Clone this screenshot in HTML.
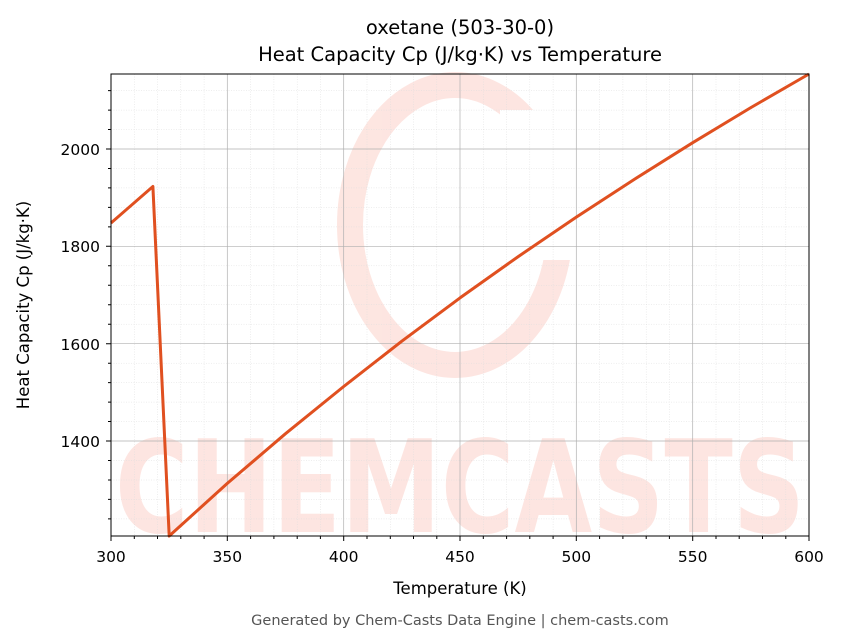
<!DOCTYPE html>
<html><head><meta charset="utf-8"><style>body{margin:0;background:#fff}svg{display:block;font-family:"DejaVu Sans","Liberation Sans",sans-serif}</style></head><body>
<svg width="843" height="644" viewBox="0 0 843 644" xmlns="http://www.w3.org/2000/svg">
<rect width="843" height="644" fill="#fff"/>
<g opacity="0.9">
<ellipse cx="455" cy="225" rx="105" ry="140" fill="none" stroke="#fde3de" stroke-width="26"/>
<rect x="500" y="110" width="90" height="150" fill="#fff"/>
<text x="460" y="532" text-anchor="middle" font-size="128" font-weight="bold" fill="#fde3de" textLength="690" lengthAdjust="spacingAndGlyphs">CHEMCASTS</text>
</g>
<g stroke="#ddd" stroke-width="0.5" stroke-dasharray="1,1.5">
<path d="M134.3 74V536M157.5 74V536M180.8 74V536M204.1 74V536M250.6 74V536M273.9 74V536M297.2 74V536M320.4 74V536M367 74V536M390.3 74V536M413.5 74V536M436.8 74V536M483.3 74V536M506.6 74V536M529.8 74V536M553.1 74V536M599.6 74V536M622.9 74V536M646.2 74V536M669.4 74V536M716 74V536M739.2 74V536M762.5 74V536M785.8 74V536"/>
<path d="M111 90.6H809M111 110.1H809M111 129.5H809M111 168.5H809M111 187.9H809M111 207.4H809M111 226.9H809M111 265.8H809M111 285.3H809M111 304.7H809M111 324.2H809M111 363.2H809M111 382.6H809M111 402.1H809M111 421.5H809M111 460.5H809M111 480H809M111 499.4H809M111 518.9H809"/>
</g>
<g stroke="#b0b0b0" stroke-width="0.7">
<path d="M227.3 74V536M343.7 74V536M460 74V536M576.3 74V536M692.7 74V536"/>
<path d="M111 149H809M111 246.3H809M111 343.7H809M111 441H809"/>
</g>
<path d="M111 223L152.9 186.5L169.2 536L227.3 483.4L285.5 433.7L343.7 386.5L401.8 341.2L460 297.9L518.2 256.6L576.3 217.1L634.5 179.2L692.7 142.7L750.8 107.6L809 74" fill="none" stroke="#e05020" stroke-width="3" stroke-linejoin="round"/>
<rect x="111" y="74" width="698" height="462" fill="none" stroke="#000" stroke-width="1"/>
<g stroke="#000" stroke-width="1">
<path d="M111 536v5M227.3 536v5M343.7 536v5M460 536v5M576.3 536v5M692.7 536v5M809 536v5"/>
<path d="M111 149h-5M111 246.3h-5M111 343.7h-5M111 441h-5"/>
<path d="M134.3 536v3M157.5 536v3M180.8 536v3M204.1 536v3M250.6 536v3M273.9 536v3M297.2 536v3M320.4 536v3M367 536v3M390.3 536v3M413.5 536v3M436.8 536v3M483.3 536v3M506.6 536v3M529.8 536v3M553.1 536v3M599.6 536v3M622.9 536v3M646.2 536v3M669.4 536v3M716 536v3M739.2 536v3M762.5 536v3M785.8 536v3"/>
<path d="M111 90.6h-3M111 110.1h-3M111 129.5h-3M111 168.5h-3M111 187.9h-3M111 207.4h-3M111 226.9h-3M111 265.8h-3M111 285.3h-3M111 304.7h-3M111 324.2h-3M111 363.2h-3M111 382.6h-3M111 402.1h-3M111 421.5h-3M111 460.5h-3M111 480h-3M111 499.4h-3M111 518.9h-3"/>
</g>
<g font-size="15.5" fill="#000" text-anchor="middle">
<text x="111" y="562">300</text><text x="227.3" y="562">350</text><text x="343.7" y="562">400</text><text x="460" y="562">450</text><text x="576.3" y="562">500</text><text x="692.7" y="562">550</text><text x="809" y="562">600</text>
</g>
<g font-size="15.5" fill="#000" text-anchor="end">
<text x="100" y="155">2000</text><text x="100" y="252">1800</text><text x="100" y="350">1600</text><text x="100" y="447">1400</text>
</g>
<text x="460" y="594" font-size="16.5" text-anchor="middle">Temperature (K)</text>
<text transform="translate(29 305) rotate(-90)" font-size="16.5" text-anchor="middle">Heat Capacity Cp (J/kg·K)</text>
<text x="460" y="34" font-size="19.5" text-anchor="middle">oxetane (503-30-0)</text>
<text x="460" y="61" font-size="19.5" text-anchor="middle">Heat Capacity Cp (J/kg·K) vs Temperature</text>
<text x="460" y="625" font-size="14.5" fill="#555" text-anchor="middle">Generated by Chem-Casts Data Engine | chem-casts.com</text>
</svg>
</body></html>
